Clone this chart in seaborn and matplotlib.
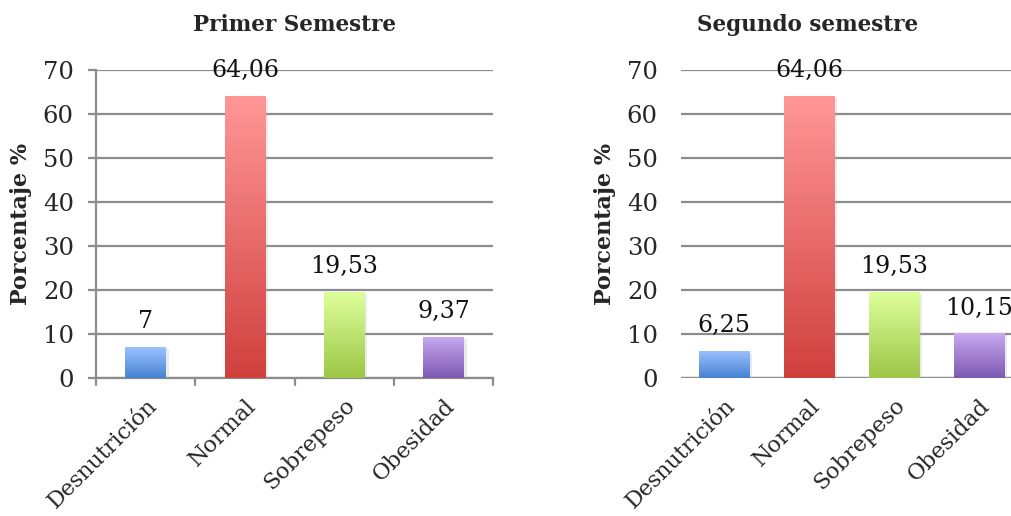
import numpy as np
import pandas as pd
import matplotlib
matplotlib.use("Agg")
import matplotlib.pyplot as plt
import matplotlib.patheffects as pe
from matplotlib.colors import LinearSegmentedColormap
import seaborn as sns

categorias = ["Desnutrición", "Normal", "Sobrepeso", "Obesidad"]
primer_semestre = [7, 64.06, 19.53, 9.37]
segundo_semestre = [6.25, 64.06, 19.53, 10.15]
etiquetas_primer = ["7", "64,06", "19,53", "9,37"]
etiquetas_segundo = ["6,25", "64,06", "19,53", "10,15"]

# gradient end colours per category (top, bottom)
degradados = [
    ("#9CC2FF", "#4682D2"),
    ("#FF9797", "#CF403D"),
    ("#DDFF9B", "#9DC646"),
    ("#C7AAF0", "#7D58B2"),
]

sns.set_theme(style="white")
plt.rcParams["font.family"] = ["DejaVu Serif"]

fig = plt.figure(figsize=(10.12, 5.16), dpi=100)
grid_color = "#8c8c8c"


def draw_panel(ax, values, labels, title, width, boxed):
    df = pd.DataFrame({"cat": categorias, "val": values})
    sns.barplot(data=df, x="cat", y="val", ax=ax, width=width,
                color="white", saturation=1, zorder=3)
    ax.set_xlim(-0.5, 3.5)
    ax.set_ylim(0, 70)
    ax.set_yticks(range(0, 71, 10))
    ax.yaxis.grid(True, color=grid_color, lw=1.6, zorder=0)
    ax.set_axisbelow(True)
    for s in ["top", "right"]:
        ax.spines[s].set_visible(False)

    for patch, (c_top, c_bot) in zip(ax.patches, degradados):
        patch.set_edgecolor("none")
        patch.set_path_effects([pe.SimplePatchShadow(offset=(2, -1.5),
                                                     shadow_rgbFace="#b0b0b0",
                                                     alpha=0.25),
                                pe.Normal()])
        x0, y0 = patch.get_x(), patch.get_y()
        w, h = patch.get_width(), patch.get_height()
        cmap = LinearSegmentedColormap.from_list("g", [c_bot, c_top])
        grad = np.linspace(0, 1, 256).reshape(-1, 1)
        im = ax.imshow(grad, cmap=cmap, origin="lower", aspect="auto",
                       extent=(x0, x0 + w, y0, y0 + h), zorder=4)
        im.set_clip_path(patch)

    ax.set_xlim(-0.5, 3.5)
    ax.set_ylim(0, 70)

    for patch, txt in zip(ax.patches, labels):
        ax.annotate(txt, (patch.get_x() + patch.get_width() / 2, patch.get_height()),
                    xytext=(0, 10), textcoords="offset points",
                    ha="center", va="bottom", fontsize=17, color="#111111",
                    zorder=6)

    ax.set_xlabel("")
    ax.set_ylabel("Porcentaje %", fontsize=16, fontweight="bold", labelpad=8)
    ax.set_title(title, fontsize=15.5, fontweight="bold", pad=28)
    ax.set_xticks(range(4))
    ax.set_xticklabels(categorias, rotation=45, ha="right",
                       rotation_mode="anchor", fontsize=16)
    ax.tick_params(axis="x", length=0, pad=12)

    if boxed:
        ax.spines["left"].set_color(grid_color)
        ax.spines["left"].set_linewidth(1.6)
        ax.spines["bottom"].set_color(grid_color)
        ax.spines["bottom"].set_linewidth(1.6)
        ax.tick_params(axis="y", left=True, length=6, width=1.6,
                       color=grid_color, pad=10, labelsize=17.5)
        # boundary tick marks between categories
        for xb in np.arange(-0.5, 4.0, 1.0):
            ax.plot([xb, xb], [0, -1.6], color=grid_color, lw=1.6,
                    clip_on=False, zorder=2)
    else:
        ax.spines["left"].set_visible(False)
        ax.spines["bottom"].set_visible(False)
        ax.axhline(0, color=grid_color, lw=1.6, zorder=1)
        ax.tick_params(axis="y", left=False, length=0, pad=17, labelsize=17.5)


ax1 = fig.add_axes([0.0949, 0.2674, 0.3923, 0.5969])
draw_panel(ax1, primer_semestre, etiquetas_primer, "Primer Semestre", 0.41, True)

ax2 = fig.add_axes([0.6734, 0.2674, 0.336, 0.5969])
draw_panel(ax2, segundo_semestre, etiquetas_segundo, "Segundo semestre", 0.59, False)
ax2.title.set_position((0.37, 1.0))

fig.savefig("out.png", dpi=100, facecolor="white")
